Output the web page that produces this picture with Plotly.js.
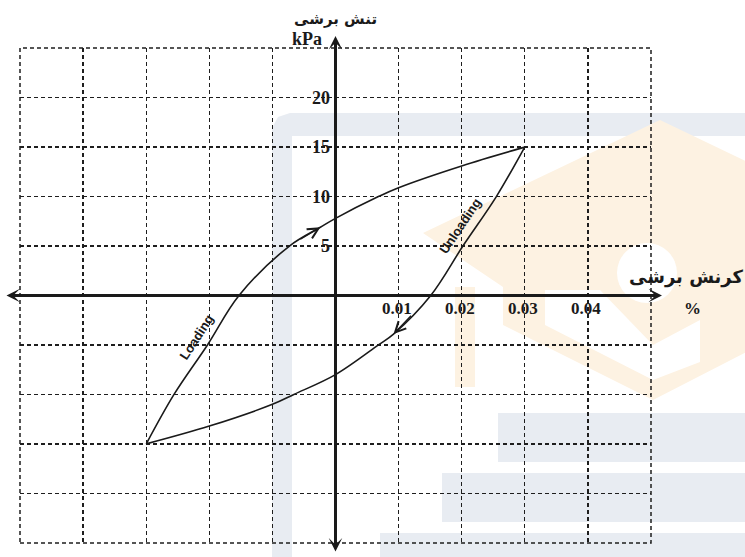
<!DOCTYPE html>
<html>
<head>
<meta charset="utf-8">
<script src="https://cdn.plot.ly/plotly-3.0.1.min.js"></script>
<style>html,body{margin:0;padding:0;background:#fff;}#chart{width:745px;height:557px;}</style>
</head>
<body>
<div id="chart"></div>
<script>
// ---- data ----
const loadingStrain   = [-0.03, -0.0256, -0.0203, -0.0153, -0.0073, -0.0024, 0, 0.0068, 0.01, 0.02, 0.03];
const loadingStress   = [-15, -10, -5, 0, 5, 6.9, 7.8, 10, 10.9, 13.1, 15];
const unloadingStrain = [0.03, 0.0255, 0.0202, 0.0151, 0.0092, 0.0068, 0, -0.0066, -0.01, -0.02, -0.03];
const unloadingStress = [15, 10, 5, 0, -3.9, -5, -8.0, -10, -11.0, -13.2, -15];
const strainTickVals  = [0.01, 0.02, 0.03, 0.04];
const strainTickText  = ['0.01', '0.02', '0.03', '0.04'];
const stressTickVals  = [5, 10, 15, 20];
const stressTickText  = ['5', '10', '15', '20'];
const loadArrow   = {tip: [-0.0024, 6.9], tail: [-0.0058, 5.6]};
const unloadArrow = {tip: [0.0092, -3.9], tail: [0.0122, -1.9]};

const ink = '#1a1a1a';
const serif = 'Liberation Serif, Times New Roman, serif';
const sans = 'Liberation Sans, Arial, sans-serif';
const arabic = 'DejaVu Sans, sans-serif';

const M = {l: 20, r: 94, t: 48, b: 14};
const W = 745, H = 557;
const pw = W - M.l - M.r, ph = H - M.t - M.b;
// pixel -> paper helpers for the faint background watermark only
const px = v => (v - M.l) / pw;
const py = v => (H - M.b - v) / ph;

const traces = [
  {x: loadingStrain, y: loadingStress, mode: 'lines', line: {color: ink, width: 1.6, shape: 'spline', smoothing: 1}, hoverinfo: 'skip', showlegend: false},
  {x: unloadingStrain, y: unloadingStress, mode: 'lines', line: {color: ink, width: 1.6, shape: 'spline', smoothing: 1}, hoverinfo: 'skip', showlegend: false}
];

const annotations = [];
// axis arrows
annotations.push({xref: 'paper', x: px(662), yref: 'y', y: 0, ax: -(662 - 5), ay: 0, axref: 'pixel', ayref: 'pixel',
  text: '', showarrow: true, arrowside: 'end+start', arrowhead: 3, arrowsize: 0.75, arrowwidth: 3, arrowcolor: ink});
annotations.push({xref: 'x', x: 0, yref: 'paper', y: py(36), ax: 0, ay: (553 - 36), axref: 'pixel', ayref: 'pixel',
  text: '', showarrow: true, arrowside: 'end+start', arrowhead: 3, arrowsize: 0.75, arrowwidth: 3, arrowcolor: ink});
// direction arrows on the loop
[loadArrow, unloadArrow].forEach(a => annotations.push({
  xref: 'x', yref: 'y', x: a.tip[0], y: a.tip[1], axref: 'x', ayref: 'y', ax: a.tail[0], ay: a.tail[1],
  text: '', showarrow: true, arrowhead: 5, arrowsize: 1.6, arrowwidth: 1.3, arrowcolor: ink}));
// tick labels
strainTickVals.forEach((v, i) => annotations.push({xref: 'x', yref: 'y', x: v, y: 0, text: strainTickText[i],
  showarrow: false, xanchor: 'center', yanchor: 'middle', xshift: -2, yshift: -13,
  font: {family: serif, size: 17, color: ink, weight: 'bold'}}));
stressTickVals.forEach((v, i) => annotations.push({xref: 'x', yref: 'y', x: 0, y: v, text: stressTickText[i],
  showarrow: false, xanchor: 'right', yanchor: 'middle', xshift: -4,
  font: {family: serif, size: 18, color: ink, weight: 'bold'}}));
// axis titles
annotations.push({xref: 'x', x: 0, yref: 'paper', y: py(39), text: 'kPa', showarrow: false, xanchor: 'right', yanchor: 'middle', xshift: -12,
  font: {family: serif, size: 18, color: ink, weight: 'bold'}});
annotations.push({xref: 'x', x: 0, yref: 'paper', y: py(19), text: 'تنش برشی', showarrow: false, xanchor: 'center', yanchor: 'middle',
  font: {family: arabic, size: 15, color: ink, weight: 'bold'}});
annotations.push({xref: 'paper', x: px(746), yref: 'paper', y: py(277), text: 'کرنش برشی', showarrow: false, xanchor: 'right', yanchor: 'middle',
  font: {family: arabic, size: 18, color: ink, weight: 'bold'}});
annotations.push({xref: 'paper', x: px(692), yref: 'paper', y: py(308), text: '%', showarrow: false, xanchor: 'center', yanchor: 'middle',
  font: {family: serif, size: 17, color: ink, weight: 'bold'}});
// branch labels
annotations.push({xref: 'x', yref: 'y', x: -0.0221, y: -4.2, text: 'Loading', showarrow: false, textangle: -57,
  font: {family: sans, size: 13, color: ink, weight: 'bold'}});
annotations.push({xref: 'x', yref: 'y', x: 0.0198, y: 7.1, text: 'Unloading', showarrow: false, textangle: -56,
  font: {family: sans, size: 13, color: ink, weight: 'bold'}});

// faint watermark behind the chart
const grey = '#e8ecf2', orange = '#fdf2e2';
const poly = pts => 'M' + pts.map(p => px(p[0]) + ',' + py(p[1])).join('L') + 'Z';
const wm = (path, color) => ({type: 'path', xref: 'paper', yref: 'paper', layer: 'below', line: {width: 0}, fillcolor: color, path: path});
const shapes = [
  wm(poly([[272, 557], [272, 128], [278, 117], [290, 113], [745, 113], [745, 136], [292, 136], [292, 557]]), grey),
  wm(poly([[498, 413], [745, 413], [745, 462], [498, 462]]), grey),
  wm(poly([[442, 473], [745, 473], [745, 522], [442, 522]]), grey),
  wm(poly([[380, 533], [745, 533], [745, 557], [380, 557]]), grey),
  wm(poly([[423, 233], [660, 120], [760, 168], [760, 345], [653, 400], [503, 325], [503, 287]]), orange),
  wm(poly([[545, 290], [600, 290], [653, 345], [700, 320], [700, 362], [653, 380], [545, 325]]), '#ffffff'),
  {type: 'circle', xref: 'paper', yref: 'paper', layer: 'below', line: {width: 0}, fillcolor: '#ffffff',
   x0: px(617), x1: px(677), y0: py(243), y1: py(303)},
  wm(poly([[455, 287], [475, 287], [475, 387], [455, 387]]), orange),
  // dotted border of the grid
  {type: 'rect', xref: 'paper', yref: 'paper', x0: 0, x1: 1, y0: 0, y1: 1, layer: 'below',
   line: {color: '#1e1e1e', width: 1.5, dash: '4px,3px'}, fillcolor: 'rgba(0,0,0,0)'}
];

const gridStyle = {showgrid: true, gridcolor: '#1e1e1e', gridwidth: 1.5, griddash: '4px,3px', zeroline: false,
  showticklabels: false, ticks: '', showline: false, fixedrange: true};

const layout = {
  width: W, height: H, margin: M,
  paper_bgcolor: '#ffffff', plot_bgcolor: 'rgba(0,0,0,0)',
  xaxis: Object.assign({range: [-0.05002, 0.05002], tick0: 0, dtick: 0.01}, gridStyle),
  yaxis: Object.assign({range: [-25.02, 25.02], tick0: 0, dtick: 5}, gridStyle),
  annotations: annotations, shapes: shapes, showlegend: false
};

Plotly.newPlot('chart', traces, layout, {displayModeBar: false, staticPlot: true});
</script>
</body>
</html>
